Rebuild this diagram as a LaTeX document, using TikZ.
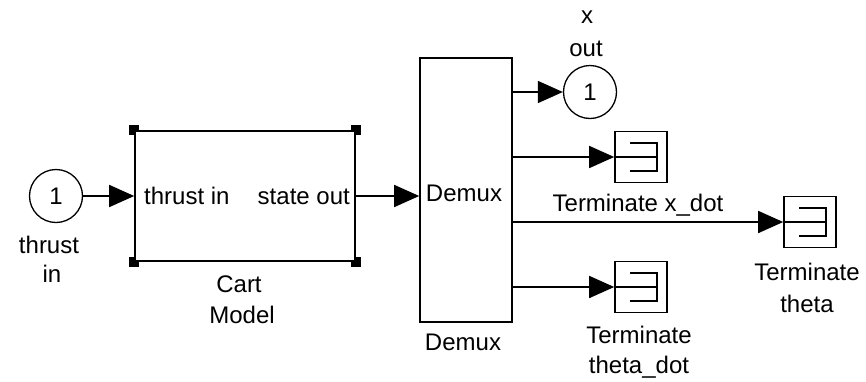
\documentclass[tikz,border=0pt]{standalone}
\usepackage{fontspec}
\setmainfont{Liberation Sans}
\usetikzlibrary{arrows.meta}
\newcommand\termicon[1]{%
  \draw[line width=1.6pt] ([shift={(-11,-14)}]#1.center) -- ++(27,0) -- ++(0,28) -- ++(-27,0);
  \draw[line width=1.6pt] (#1.west) -- ([xshift=16pt]#1.center);}
\newcommand\cornermark[3]{% corner, inward x sign, inward y sign
  \fill[black] ([shift={(-5,-5)}]#1) rectangle ++(10,10);
  \fill[white] ([shift={(#2*1.5,#3*1.5)}]#1) rectangle ++(#2*3.5,#3*3.5);}
\begin{document}
\begin{tikzpicture}[x=1pt,y=-1pt,
  blk/.style={draw, line width=1.6pt, inner sep=0pt, fill=white},
  port/.style={blk, line width=1.3pt, circle, minimum size=53pt, font=\fontsize{24}{30}\selectfont},
  termbox/.style={blk, rectangle, minimum width=52pt, minimum height=51pt},
  lbl/.style={font=\fontsize{24}{31}\selectfont, inner sep=0pt, anchor=base},
  wire/.style={line width=1.6pt, -{Triangle[length=25pt,width=22pt]}}]
\useasboundingbox (0,0) rectangle (866,381);

% blocks
\node[port] (in1) at (56,196) {1};
\node[blk, rectangle, minimum width=220pt, minimum height=130pt] (cart) at (245,196) {};
\node[blk, rectangle, minimum width=92pt, minimum height=264pt] (demux) at (466,190) {};
\node[port] (out1) at (590,92) {1};
\node[termbox] (tx) at (641,157) {};
\node[termbox] (tth) at (810,222) {};
\node[termbox] (ttd) at (641,287) {};
\termicon{tx}
\termicon{tth}
\termicon{ttd}

% cart corner marks
\cornermark{cart.north west}{1}{1}
\cornermark{cart.north east}{-1}{1}
\cornermark{cart.south west}{1}{-1}
\cornermark{cart.south east}{-1}{-1}

% texts inside
\node[lbl, anchor=base west] (cin) at (144,204) {thrust in};
\node[lbl, anchor=base east] (cout) at (350,204) {state out};
\node[lbl] (dtxt) at (464,201) {Demux};

% labels
\node[lbl] (l1a) at (49,253) {thrust};
\node[lbl] (l1b) at (52,282) {in};
\node[lbl] (l2a) at (239,292) {Cart};
\node[lbl] (l2b) at (242,323) {Model};
\node[lbl] (l3) at (463,350) {Demux};
\node[lbl] (l4a) at (587,23) {x};
\node[lbl] (l4b) at (586,56) {out};
\node[lbl] (l5) at (638,211) {Terminate x\_dot};
\node[lbl] (l6a) at (807,280) {Terminate};
\node[lbl] (l6b) at (807,312) {theta};
\node[lbl] (l7a) at (639,343) {Terminate};
\node[lbl] (l7b) at (639,373) {theta\_dot};

% connectors
\draw[wire] (in1.east) -- (in1.east -| cart.west);
\draw[wire] (cart.east) -- (cart.east -| demux.west);
\draw[wire] (demux.east |- out1.west) -- (out1.west);
\draw[wire] (demux.east |- tx.west) -- (tx.west);
\draw[wire] (demux.east |- tth.west) -- (tth.west);
\draw[wire] (demux.east |- ttd.west) -- (ttd.west);
\end{tikzpicture}
\end{document}
